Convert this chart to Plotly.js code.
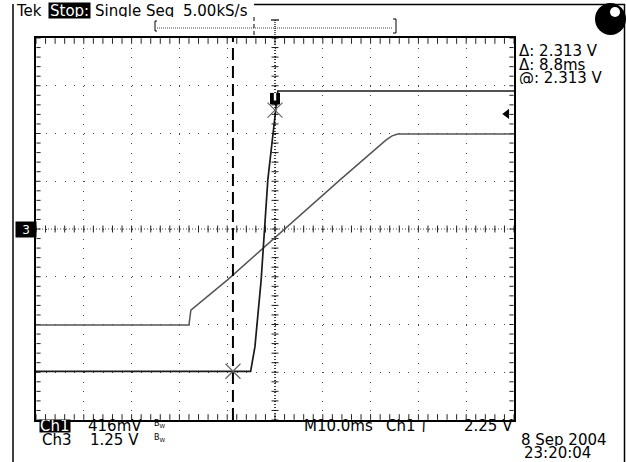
<!DOCTYPE html>
<html><head><meta charset="utf-8">
<script src="https://cdn.plot.ly/plotly-3.0.1.min.js"></script>
<style>html,body{margin:0;padding:0;background:#fff;}#chart{width:626px;height:462px;}</style>
</head><body><div id="chart"></div>
<script>
// Horizontal: time in ms (10 divisions x 10 ms). Vertical: screen divisions (-4..4).
const ch1Time = [0, 44.9, 45.8, 47.1, 48.5, 49.6, 50.0, 50.4, 50.6, 100];
const ch1Div  = [-2.98, -2.98, -2.47, -1.07, 1.03, 2.01, 2.49, 2.81, 2.89, 2.89];
const ch3Time = [0, 32.0, 32.4, 40.0, 63.6, 73.2, 74.5, 75.7, 100];
const ch3Div  = [-2.01, -2.01, -1.70, -1.07, 1.03, 1.86, 1.95, 1.99, 1.99];
const cursorTimes  = [41.2, 50.0];
const cursorLevels = [-2.98, 2.49];
const triggerLevel = 2.41;
const ch3Ground = 0;

const F = 'DejaVu Sans';
const PL = 36, PR = 514, PT = 38, PB = 420;
const px = x => (x - PL) / (PR - PL);
const py = y => (PB - y) / (PB - PT);
const XPX = 100 / (PR - PL), YPX = 8 / (PB - PT);   // data units per pixel

// minor division positions (graticule)
const minorX = [], minorY = [];
for (let i = 0; i <= 50; i++) minorX.push(i * 2);
for (let i = 0; i <= 40; i++) minorY.push(-4 + i * 0.2);
const fill = (arr, v) => arr.map(() => v);

function tickTrace(x, y, sym, size) {
  return {x: x, y: y, mode: 'markers', hoverinfo: 'skip', cliponaxis: false,
    marker: {symbol: sym, size: size, color: '#222', line: {width: 1, color: '#222'}}};
}

const traces = [
  tickTrace(minorX, fill(minorX, 0), 'line-ns-open', 5),
  tickTrace(fill(minorY, 50), minorY, 'line-ew-open', 5),
  tickTrace(minorX, fill(minorX, 4 - 3 * YPX), 'line-ns-open', 4),
  tickTrace(minorX, fill(minorX, -4 + 3 * YPX), 'line-ns-open', 4),
  tickTrace(fill(minorY, 2.5 * XPX), minorY, 'line-ew-open', 3),
  tickTrace(fill(minorY, 100 - 2.5 * XPX), minorY, 'line-ew-open', 3),
  {x: ch3Time, y: ch3Div, mode: 'lines', line: {color: '#555', width: 1.5}},
  {x: ch1Time, y: ch1Div, mode: 'lines', line: {color: '#1a1a1a', width: 1.7}},
  {x: [cursorTimes[0], cursorTimes[0]], y: [-4, 4], mode: 'lines',
   line: {color: '#000', width: 2, dash: '12px,6px'}},
  {x: [cursorTimes[1], cursorTimes[1]], y: [-4, 4], mode: 'lines',
   line: {color: '#000', width: 1.2, dash: '1px,2px'}},
  {x: cursorTimes, y: cursorLevels, mode: 'markers', cliponaxis: false,
   marker: {symbol: 'x-thin-open', size: 15, color: '#666', line: {width: 1.2, color: '#666'}}},
  {x: [98.5], y: [triggerLevel], mode: 'markers', cliponaxis: false,
   marker: {symbol: 'triangle-left', size: 9, color: '#000', line: {width: 0}}}
];

function A(text, x, y, o) {
  return Object.assign({text: text, xref: 'paper', yref: 'paper', x: px(x), y: py(y),
    xanchor: 'left', yanchor: 'middle', showarrow: false, height: 13,
    font: {family: F, size: 15, color: '#000'}}, o || {});
}
function L(x0, y0, x1, y1, line) {
  return {type: 'line', xref: 'paper', yref: 'paper', x0: px(x0), y0: py(y0), x1: px(x1), y1: py(y1),
    line: Object.assign({color: '#000', width: 1}, line || {})};
}
function P(path, fillc) {
  return {type: 'path', xref: 'paper', yref: 'paper', path: path, fillcolor: fillc || 'rgba(0,0,0,0)',
    line: {color: '#000', width: 1}};
}
function pathPx(pts, close) {
  return pts.map((p, i) => (i ? 'L' : 'M') + px(p[0]) + ',' + py(p[1])).join(' ') + (close ? ' Z' : '');
}

const white = {family: F, size: 15, color: '#fff'};
const annotations = [
  A('Tek', 14, 10.5),
  A('Stop:', 48, 10.5, {bgcolor: '#000', font: white, borderpad: 1}),
  A('Single Seq', 93, 10.5),
  A('5.00kS/s', 181, 10.5),
  A('\u0394: 2.313 V', 517, 50.5),
  A('\u0394: 8.8ms', 517, 64),
  A('@: 2.313 V', 517, 77.5),
  A('Ch1', 39, 425.5, {bgcolor: '#000', font: white, borderpad: 0, height: 12}),
  A('416mV', 86, 425.5),
  A('B<sub>W</sub>', 152, 424, {font: {family: F, size: 8, color: '#000'}, height: 10}),
  A('Ch3', 40, 439.5),
  A('1.25 V', 88, 439.5),
  A('B<sub>W</sub>', 152, 438, {font: {family: F, size: 8, color: '#000'}, height: 10}),
  A('M10.0ms', 302, 425.5),
  A('Ch1', 384, 425.5),
  A('\u222B', 418, 425.5),
  A('2.25 V', 462, 425.5),
  A('8 Sep 2004', 519, 439.5),
  A('23:20:04', 522, 452.5),
  {text: '3', xref: 'paper', yref: 'y', x: px(26), y: ch3Ground, xanchor: 'center', yanchor: 'middle',
   showarrow: false, bgcolor: '#000', width: 18, height: 13,
   font: {family: F, size: 12, color: '#fff'}}
];

const shapes = [
  // centre crosshair dotted lines
  {type: 'line', xref: 'paper', yref: 'y', x0: 0, x1: 1, y0: 0, y1: 0, layer: 'below',
   line: {color: '#444', width: 1, dash: '1px,2px'}},
  {type: 'line', xref: 'x', yref: 'paper', x0: 50, x1: 50, y0: 0, y1: 1, layer: 'below',
   line: {color: '#444', width: 1, dash: '1px,2px'}},
  // page frame
  L(13, 4, 13, 462, {width: 1.5}),
  L(254, 4.5, 625, 4.5, {width: 1.5}),
  L(624.5, 4, 624.5, 462, {width: 1.5}),
  // record bar
  P(pathPx([[157, 21], [155, 21], [155, 31], [157, 31]])),
  P(pathPx([[393, 19], [396, 19], [396, 33], [393, 33]])),
  L(157, 28, 393, 28, {dash: '1px,1px', color: '#444'}),
  L(254, 17, 254, 35, {dash: '4px,3px', width: 1}),
  L(275, 20, 275, 35, {dash: '1px,1px', width: 1.2}),
  L(271, 20, 279, 20, {width: 1.2}),
  // cursor icon
  {type: 'rect', xref: 'x', yref: 'y', x0: cursorTimes[1] - 1.05, x1: cursorTimes[1] + 1.05,
   y0: cursorLevels[1] + 0.12, y1: cursorLevels[1] + 0.36, fillcolor: '#000', line: {width: 0}},
  {type: 'rect', xref: 'x', yref: 'y', x0: cursorTimes[1] - 0.25, x1: cursorTimes[1] + 0.25,
   y0: cursorLevels[1] + 0.2, y1: cursorLevels[1] + 0.36, fillcolor: '#fff', line: {width: 0}},
  // corner badge
  {type: 'circle', xref: 'paper', yref: 'paper', x0: px(595), x1: px(626), y0: py(35), y1: py(3),
   fillcolor: '#000', line: {width: 0}},
  {type: 'circle', xref: 'paper', yref: 'paper', x0: px(610), x1: px(620), y0: py(17), y1: py(7),
   fillcolor: '#fff', line: {width: 0}}
];

const axisCommon = {
  showline: true, linecolor: '#000', linewidth: 2, mirror: true,
  ticks: '', showticklabels: false, zeroline: false, fixedrange: true,
  showgrid: true, gridcolor: '#444', gridwidth: 1, griddash: '1px,8.55px'
};

const layout = {
  width: 626, height: 462,
  margin: {l: PL, r: 626 - PR, t: PT, b: 462 - PB},
  paper_bgcolor: '#fff', plot_bgcolor: '#fff',
  showlegend: false,
  xaxis: Object.assign({}, axisCommon, {range: [0, 100], dtick: 10, tick0: 0}),
  yaxis: Object.assign({}, axisCommon, {range: [-4, 4], dtick: 1, tick0: 0}),
  annotations: annotations,
  shapes: shapes
};

Plotly.newPlot('chart', traces, layout, {displayModeBar: false, staticPlot: true});
</script></body></html>
